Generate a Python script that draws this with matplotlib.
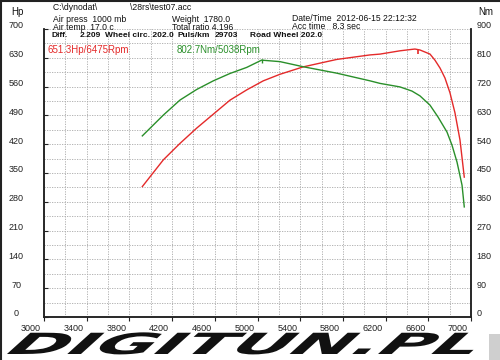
import matplotlib
matplotlib.use("Agg")
import matplotlib.pyplot as plt
from matplotlib.patheffects import AbstractPathEffect
from matplotlib.transforms import Affine2D, ScaledTranslation
from matplotlib.patches import Rectangle
from matplotlib.lines import Line2D

# ---- data ----
hp_rpm = [3921, 4118, 4274, 4430, 4586, 4742, 4899, 5054, 5211, 5429, 5742, 6054,
          6148, 6335, 6447, 6475, 6522, 6616, 6663, 6710, 6756, 6803, 6850, 6897, 6937]
hp_val = [317, 382, 422, 459, 493, 527, 552, 574, 590, 608, 626, 637,
          639, 647, 650.5, 651.3, 649, 639, 624, 605, 581, 545, 496, 430, 340]
nm_rpm = [3921, 4118, 4274, 4430, 4586, 4742, 4899, 5038, 5211, 5429, 5742, 6054,
          6148, 6335, 6447, 6522, 6616, 6691, 6775, 6822, 6869, 6916, 6937]
nm_val = [566, 631, 678, 711, 738, 761, 780, 802.7, 798, 782, 762, 738,
          730, 719, 706, 691, 662, 625, 578, 537, 484, 412, 344]
x_ticks = [3000, 3400, 3800, 4200, 4600, 5000, 5400, 5800, 6200, 6600, 7000]
hp_ticks = [0, 70, 140, 210, 280, 350, 420, 490, 560, 630, 700]
nm_ticks = [0, 90, 180, 270, 360, 450, 540, 630, 720, 810, 900]
hp_peak = (6475, 651.3)
nm_peak = (5038, 802.7)
diff_line = ["Diff.", "2.209", "Wheel circ. 202.0", "Puls/km", "29703", "Road Wheel 202.0"]

RED = "#e42a2a"
GREEN = "#2a8f2a"
FONT = "Liberation Sans"

fig = plt.figure(figsize=(5, 3.6), dpi=100)
W, H = 500, 360
def fx(px): return px / W
def fy(py): return 1 - py / H

ax = fig.add_axes([fx(44), fy(317), fx(471) - fx(44), fy(29) - fy(317)])
ax2 = ax.twinx()

ax.set_xlim(3000, 7000)
ax.set_ylim(0, 700)
ax2.set_ylim(0, 900)

ax.plot(hp_rpm, hp_val, color=RED, lw=1.0)
ax2.plot(nm_rpm, nm_val, color=GREEN, lw=1.0)
ax.plot([hp_peak[0] + 30], [hp_peak[1] - 8], marker="|", color=RED, ms=3, mew=1.2)
ax2.plot([nm_peak[0]], [nm_peak[1] - 3], marker="|", color=GREEN, ms=3, mew=1.0)

# grid
ax.set_xticks(x_ticks)
ax.set_xticks(list(range(3000, 7001, 200)), minor=True)
ax.set_yticks(hp_ticks)
ax.set_yticks(list(range(0, 701, 35)), minor=True)
ax2.set_yticks(nm_ticks)
ax.grid(True, which="both", color="#a8a8a8", lw=0.6, linestyle=(0, (1.5, 1.5)))
ax.set_axisbelow(True)

for a in (ax, ax2):
    a.spines["top"].set_visible(False)
    for s in ("left", "right", "bottom"):
        a.spines[s].set_color("#222222")
        a.spines[s].set_linewidth(1.1)
    a.set_facecolor("none")

ax.tick_params(axis="x", which="major", direction="out", length=3, width=0.8,
               labelsize=6.5, pad=2, colors="#222222")
ax.tick_params(axis="x", which="minor", length=0)
ax.tick_params(axis="y", which="major", direction="in", length=3, width=0.8,
               labelsize=6.5, pad=20, colors="#222222")
ax.tick_params(axis="y", which="minor", length=0)
ax2.tick_params(axis="y", direction="in", length=0, labelsize=6.5, pad=4, colors="#222222")

for lab in ax.get_xticklabels():
    lab.set_fontfamily(FONT)
    lab.set_ha("right")
    lab.set_transform(lab.get_transform() + ScaledTranslation(-3 / 100, 0, fig.dpi_scale_trans))
for lab in ax.get_yticklabels():
    lab.set_fontfamily(FONT)
    lab.set_ha("center")
    lab.set_transform(lab.get_transform() + ScaledTranslation(0, 4 / 100, fig.dpi_scale_trans))
for lab in ax2.get_yticklabels():
    lab.set_fontfamily(FONT)
    lab.set_transform(lab.get_transform() + ScaledTranslation(0, 4 / 100, fig.dpi_scale_trans))

# header texts
def t(px, py, s, size=6.2, color="#111111", va="center", **kw):
    fig.text(fx(px), fy(py), s, fontsize=size, color=color, family=FONT,
             va=va, ha="left", **kw)

t(11, 12, "Hp", size=7)
t(478, 12, "Nm", size=7)
t(53, 7, r"C:\dynodat\ ")
t(130, 7, r"\28rs\test07.acc")
t(53, 31.5, "Air press  1000 mb\nAir temp  17.0 c", va="bottom", linespacing=0.78)
t(172, 31.5, "Weight  1780.0\nTotal ratio 4.196", va="bottom", linespacing=0.78)
t(292, 31.0, "Date/Time  2012-06-15 22:12:32\nAcc time   8.3 sec", va="bottom", linespacing=0.85)
for xpos, seg in zip([52, 80, 105, 178, 215, 250], diff_line):
    t(xpos, 31.6, seg, size=6.0, fontweight="bold", va="top")
t(48, 50, "651.3Hp/6475Rpm", size=7, color=RED)
t(177, 50, "802.7Nm/5038Rpm", size=7, color=GREEN)

# border lines (top and left)
fig.add_artist(Line2D([0, 1], [fy(1), fy(1)], color="#222222", lw=1.5))
fig.add_artist(Line2D([fx(1), fx(1)], [0, 1], color="#222222", lw=1.5))
# grey box at bottom right
fig.add_artist(Rectangle((fx(489), 0), fx(500) - fx(489), fy(334), color="#cfcfcf", lw=0))

# logo
class Stretch(AbstractPathEffect):
    def __init__(self, sx, x0, y0, skew):
        super().__init__()
        self.sx, self.x0, self.y0, self.skew = sx, x0, y0, skew
    def draw_path(self, renderer, gc, tpath, affine, rgbFace=None):
        extra = (Affine2D().translate(-self.x0, -self.y0).skew_deg(self.skew, 0)
                 .scale(self.sx, 1).translate(self.x0, self.y0))
        renderer.draw_path(gc, tpath, affine + extra, rgbFace)

logo_size = 21
logo = fig.text(fx(6), fy(360), "DIGITUN.PL", fontsize=logo_size, family="DejaVu Sans",
                fontweight="bold", style="italic", color="#111111",
                ha="left", va="bottom")
fig.canvas.draw()
bb = logo.get_window_extent()
sx = (476 - 6) / bb.width
base_y = bb.y0 + 0.236 * logo_size * 100 / 72
logo.set_path_effects([Stretch(sx, bb.x0, base_y, 14)])

fig.savefig("out.png", dpi=100)
